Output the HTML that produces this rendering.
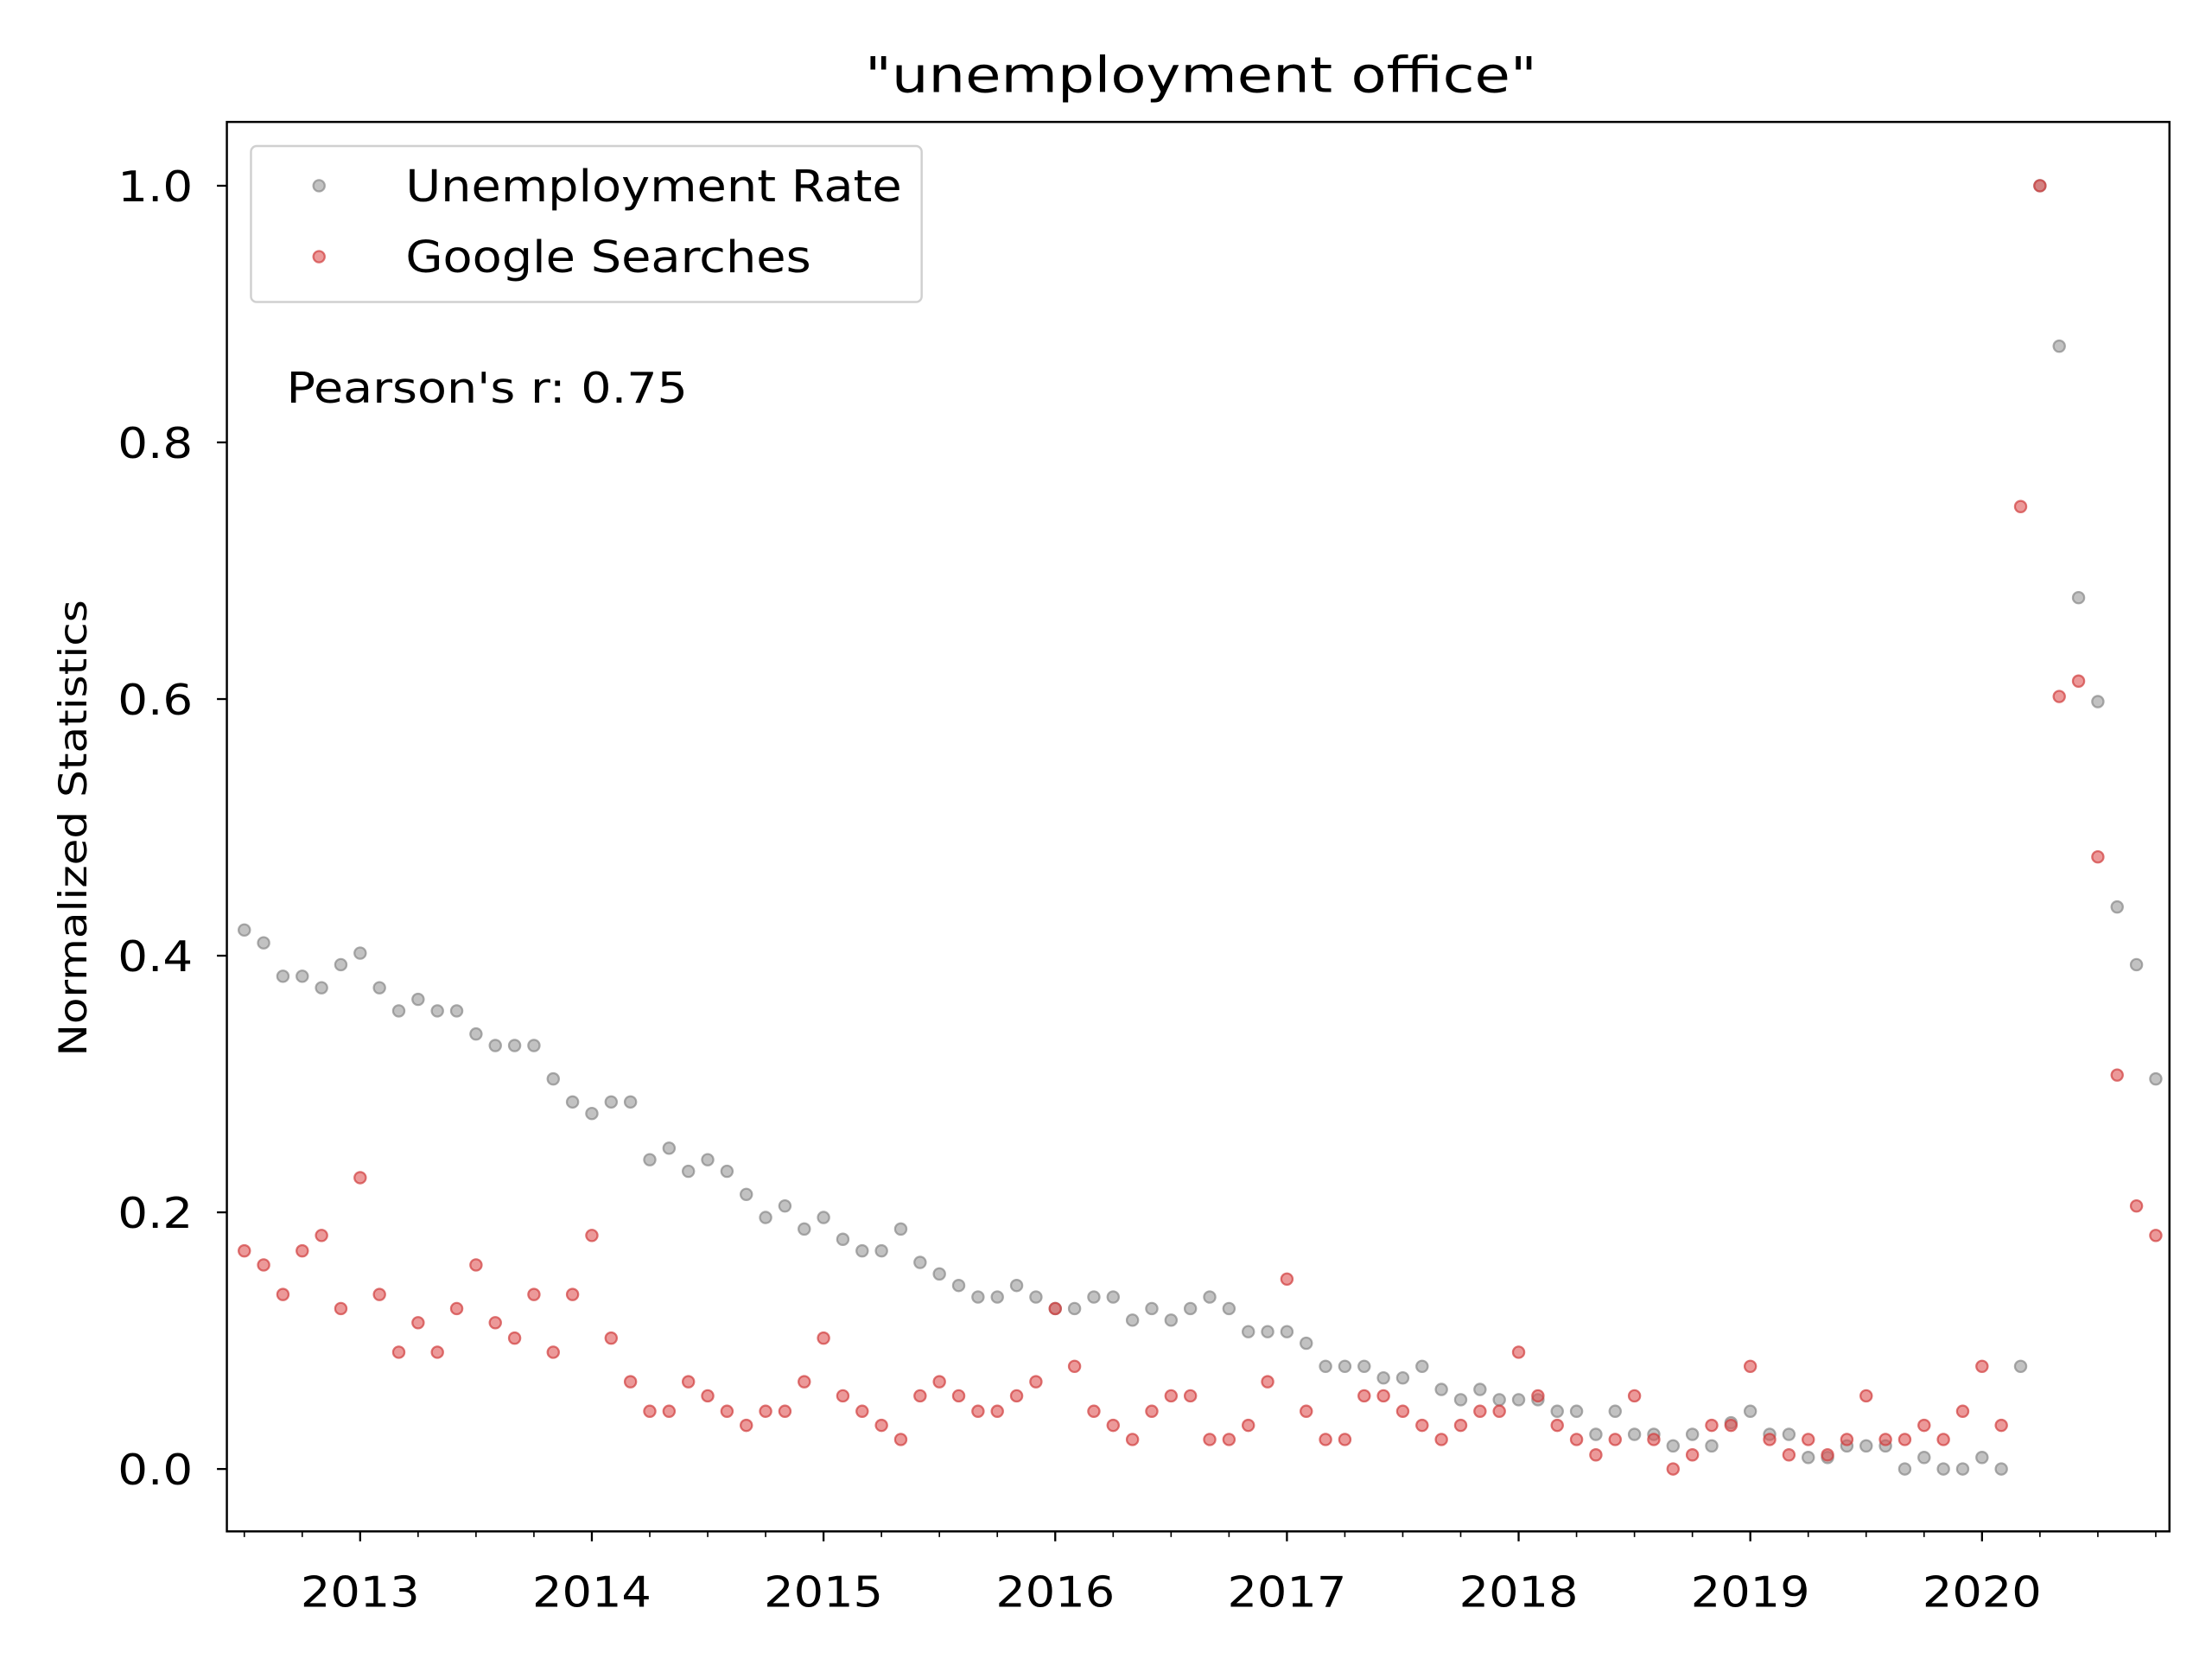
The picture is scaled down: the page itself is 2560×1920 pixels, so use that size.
<!DOCTYPE html>
<html><head><meta charset="utf-8"><style>
html,body{margin:0;padding:0;background:#fff;}
svg{display:block;font-family:"DejaVu Sans","Liberation Sans",sans-serif;}
</style></head><body>
<svg id="chart" width="2560" height="1920" viewBox="0 0 1560 1170" xmlns="http://www.w3.org/2000/svg">
<rect x="0" y="0" width="1560" height="1170" fill="#fff"/>
<text x="847" y="65" font-size="35" text-anchor="middle" textLength="474" lengthAdjust="spacingAndGlyphs">"unemployment office"</text>
<g id="ticks"></g>
<g id="marks"></g>
<rect x="160" y="86" width="1370" height="994" fill="none" stroke="#000" stroke-width="1.5"/>
<text transform="translate(61,584) rotate(-90)" font-size="27" text-anchor="middle" textLength="322" lengthAdjust="spacingAndGlyphs">Normalized Statistics</text>
<g>
<rect x="177" y="103" width="473" height="110" rx="4" fill="#fff" fill-opacity="0.8" stroke="#d0d0d0" stroke-width="1.5"/>
<circle cx="225" cy="131" r="4" fill="#999" fill-opacity="0.6" stroke="#888" stroke-opacity="0.7" stroke-width="1.4"/>
<text x="286" y="142" font-size="31" textLength="350" lengthAdjust="spacingAndGlyphs">Unemployment Rate</text>
<circle cx="225" cy="181" r="4" fill="#e05555" fill-opacity="0.6" stroke="#d03c3c" stroke-opacity="0.7" stroke-width="1.4"/>
<text x="286" y="192" font-size="31" textLength="286" lengthAdjust="spacingAndGlyphs">Google Searches</text>
</g>
<text x="202" y="284" font-size="30" textLength="283" lengthAdjust="spacingAndGlyphs">Pearson's r: 0.75</text>
</svg>
<script>
const unemployment = [0.42,0.41,0.384,0.384,0.375,0.393,0.402,0.375,0.357,0.366,0.357,0.357,0.339,0.330,0.330,0.330,0.304,0.286,0.277,0.286,0.286,0.241,0.25,0.232,0.241,0.232,0.214,0.196,0.205,0.187,0.196,0.179,0.17,0.17,0.187,0.161,0.152,0.143,0.134,0.134,0.143,0.134,0.125,0.125,0.134,0.134,0.116,0.125,0.116,0.125,0.134,0.125,0.107,0.107,0.107,0.098,0.080,0.080,0.080,0.071,0.071,0.080,0.062,0.054,0.062,0.054,0.054,0.054,0.045,0.045,0.027,0.045,0.027,0.027,0.018,0.027,0.018,0.036,0.045,0.027,0.027,0.009,0.009,0.018,0.018,0.018,0.0,0.009,0.0,0.0,0.009,0.0,0.080,1.0,0.875,0.679,0.598,0.438,0.393,0.304];
const searches = [0.17,0.159,0.136,0.17,0.182,0.125,0.227,0.136,0.091,0.114,0.091,0.125,0.159,0.114,0.102,0.136,0.091,0.136,0.182,0.102,0.068,0.045,0.045,0.068,0.057,0.045,0.034,0.045,0.045,0.068,0.102,0.057,0.045,0.034,0.023,0.057,0.068,0.057,0.045,0.045,0.057,0.068,0.125,0.080,0.045,0.034,0.023,0.045,0.057,0.057,0.023,0.023,0.034,0.068,0.148,0.045,0.023,0.023,0.057,0.057,0.045,0.034,0.023,0.034,0.045,0.045,0.091,0.057,0.034,0.023,0.011,0.023,0.057,0.023,0.0,0.011,0.034,0.034,0.080,0.023,0.011,0.023,0.011,0.023,0.057,0.023,0.023,0.034,0.023,0.045,0.080,0.034,0.75,1.0,0.602,0.614,0.477,0.307,0.205,0.182];
const yTicks = [0.0,0.2,0.4,0.6,0.8,1.0];
const yearLabels = [2013,2014,2015,2016,2017,2018,2019,2020];
const startMonth = 6; // July 2012 (months since Jan 2012)

const NS = "http://www.w3.org/2000/svg";
function yScale(v){ return 1036 - v*905; }
function xScale(monthsSince2012Jan){ return 254 + (monthsSince2012Jan - 12) * (163.4/12); }

const ticks = document.getElementById('ticks');
const marks = document.getElementById('marks');
function mk(tag, attrs, parent){ const e=document.createElementNS(NS,tag); for(const k in attrs) e.setAttribute(k,attrs[k]); parent.appendChild(e); return e; }

yTicks.forEach(v=>{
  const y=yScale(v);
  const t=mk('line',{x1:153,x2:160,y1:y,y2:y,stroke:'#000','stroke-width':1.4},ticks);
  
  
  const l=mk('text',{x:136,y:y+11,'font-size':30,'text-anchor':'end',textLength:53,lengthAdjust:'spacingAndGlyphs'},ticks);
  l.textContent=v.toFixed(1);
  
  
});
yearLabels.forEach(yr=>{
  const x=xScale((yr-2012)*12);
  const t=mk('line',{x1:x,x2:x,y1:1080,y2:1087,stroke:'#000','stroke-width':1.4},ticks);
  
  
  const l=mk('text',{x:x,y:1133,'font-size':30,'text-anchor':'middle',textLength:84,lengthAdjust:'spacingAndGlyphs'},ticks);
  l.textContent=String(yr);
  
  
});
for(let m=startMonth; m<=startMonth+unemployment.length+2; m+=3){
  if(m%12===0) continue;
  const x=xScale(m);
  if(x<160||x>1530) continue;
  const t=mk('line',{x1:x,x2:x,y1:1080,y2:1084,stroke:'#000','stroke-width':1},ticks);
  
  
}
unemployment.forEach((v,i)=>{
  const c=mk('circle',{cx:xScale(startMonth+i),cy:yScale(v),r:4,fill:'#999','fill-opacity':0.6,stroke:'#888','stroke-opacity':0.7,'stroke-width':1.4},marks);
  
  
});
searches.forEach((v,i)=>{
  const c=mk('circle',{cx:xScale(startMonth+i),cy:yScale(v),r:4,fill:'#e05555','fill-opacity':0.6,stroke:'#d03c3c','stroke-opacity':0.7,'stroke-width':1.4},marks);
  
  
});
</script>
</body></html>
